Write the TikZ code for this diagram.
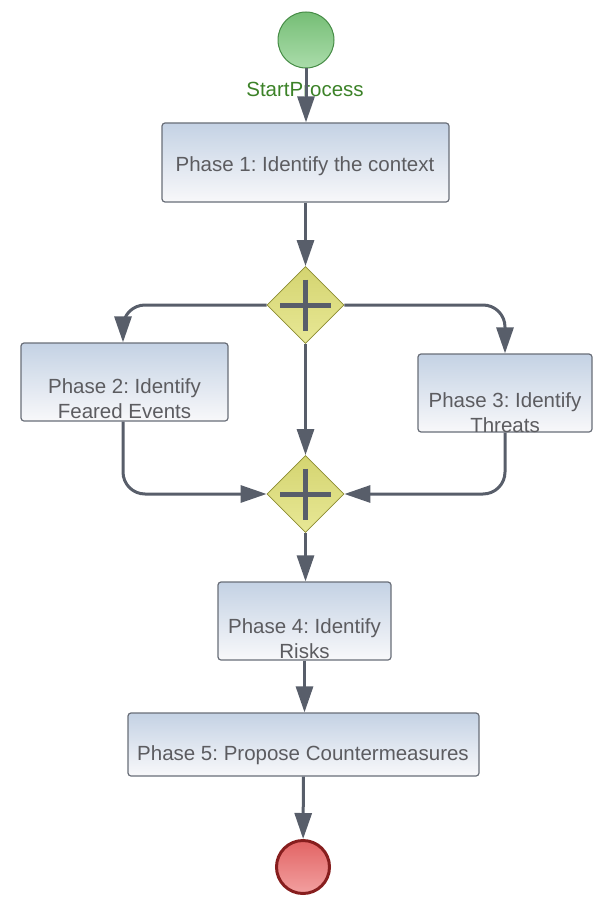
\documentclass[tikz,border=0pt]{standalone}
\usepackage{fontspec}
\setmainfont{Liberation Sans}
\frenchspacing
\usetikzlibrary{arrows.meta,shapes.geometric}
\definecolor{flowc}{RGB}{88,94,106}
\definecolor{boxtop}{RGB}{196,210,228}
\definecolor{boxbot}{RGB}{248,248,250}
\definecolor{boxline}{RGB}{105,110,120}
\definecolor{txtc}{RGB}{92,92,96}
\definecolor{gwtop}{RGB}{212,212,112}
\definecolor{gwbot}{RGB}{232,232,150}
\definecolor{gwline}{RGB}{140,140,50}
\definecolor{sttop}{RGB}{118,190,118}
\definecolor{stbot}{RGB}{170,220,170}
\definecolor{stline}{RGB}{70,140,70}
\definecolor{stlbl}{RGB}{60,130,40}
\definecolor{entop}{RGB}{226,100,100}
\definecolor{enbot}{RGB}{242,160,160}
\definecolor{enline}{RGB}{135,30,30}
\tikzset{
  x=1pt, y=-1pt,
  flow/.style={draw=flowc, line width=3pt, -{Triangle[length=26pt,width=17pt]}},
  taskbox/.style={draw=boxline, line width=1.2pt, rounded corners=3pt, top color=boxtop, bottom color=boxbot, inner sep=0pt},
  tasktext/.style={text=txtc, font=\fontsize{20.5}{25}\selectfont, align=center, inner sep=0pt},
  gateway/.style={diamond, draw=gwline, line width=0.8pt, top color=gwtop, bottom color=gwbot, minimum size=77pt, inner sep=0pt},
  plusbar/.style={draw=flowc, line width=5pt},
  startev/.style={circle, draw=stline, line width=1pt, top color=sttop, bottom color=stbot, minimum size=56pt, inner sep=0pt},
  endev/.style={circle, draw=enline, line width=3pt, top color=entop, bottom color=enbot, minimum size=53pt, inner sep=0pt},
}
\begin{document}
\begin{tikzpicture}
\useasboundingbox (0,0) rectangle (614,904);
% events
\node[startev] (start) at (306,40) {};
\node[text=stlbl, font=\fontsize{20.5}{25}\selectfont, inner sep=0pt] (startlbl) at (305,89) {StartProcess};
\node[endev] (end) at (303,867) {};
% boxes
\node[taskbox, minimum width=287pt, minimum height=79pt] (p1) at (305.5,162.5) {};
\node[tasktext] (t1) at (305,166) {Phase 1: Identify the context};
\node[taskbox, minimum width=207pt, minimum height=78pt] (p2) at (124.5,382) {};
\node[tasktext] (t2) at (124.5,399) {Phase 2: Identify\\Feared Events};
\node[taskbox, minimum width=174pt, minimum height=78pt] (p3) at (505,393) {};
\node[tasktext] (t3) at (505,413) {Phase 3: Identify\\Threats};
\node[taskbox, minimum width=173pt, minimum height=78pt] (p4) at (304.5,621) {};
\node[tasktext] (t4) at (304.5,639) {Phase 4: Identify\\Risks};
\node[taskbox, minimum width=351pt, minimum height=63pt] (p5) at (303.5,744.5) {};
\node[tasktext] (t5) at (303,755) {Phase 5: Propose Countermeasures};
% gateways
\node[gateway] (g1) at (305.5,305) {};
\node[gateway] (g2) at (305.5,494) {};
\foreach \g in {g1,g2}{
  \draw[plusbar] ([xshift=-25.5pt]\g.center) -- ([xshift=25.5pt]\g.center);
  \draw[plusbar] ([yshift=25.5pt]\g.center) -- ([yshift=-25.5pt]\g.center);
}
% flows
\draw[flow] (start) -- (p1.north -| start);
\draw[flow] (p1) -- (g1);
\draw[flow, rounded corners=22pt] (g1.west) -| ([xshift=-1.5pt]p2.north);
\draw[flow, rounded corners=22pt] (g1.east) -| (p3.north);
\draw[flow] (g1) -- (g2);
\draw[flow, rounded corners=22pt] ([xshift=-1.5pt]p2.south) |- (g2.west);
\draw[flow, rounded corners=22pt] (p3.south) |- (g2.east);
\draw[flow] (g2) -- (p4.north -| g2);
\draw[flow] (p4) -- (p4 |- p5.north);
\draw[flow] (p5) -- (end);
\end{tikzpicture}
\end{document}
